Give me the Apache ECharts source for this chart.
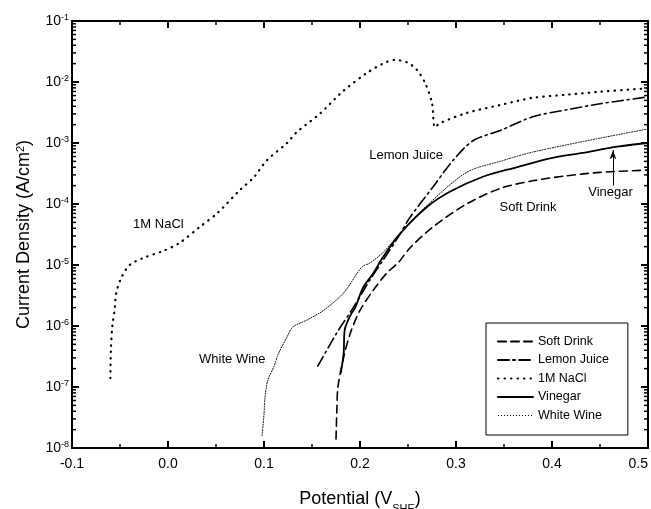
<!DOCTYPE html>
<html>
<head>
<meta charset="utf-8">
<script src="https://cdn.jsdelivr.net/npm/echarts@6/dist/echarts.min.js"></script>
<style>
  html, body { margin: 0; padding: 0; background: #fff; }
  #chart { width: 651px; height: 509px; }
</style>
</head>
<body>
<div id="chart"></div>
<script>
// polarization curves, [potential V_SHE, current density A/cm2]
const softDrink = [
  [0.175, 1.4e-8], [0.176, 4.7e-8], [0.177, 1e-7], [0.183, 3.1e-7], [0.19, 7.7e-7],
  [0.2, 1.8e-6], [0.214, 3.9e-6], [0.228, 7.4e-6], [0.24, 1.1e-5], [0.252, 1.9e-5],
  [0.276, 4.2e-5], [0.311, 1e-4], [0.346, 1.8e-4], [0.38, 2.4e-4], [0.415, 2.9e-4],
  [0.45, 3.3e-4], [0.5, 3.6e-4]
]
const lemonJuice = [
  [0.156, 2.2e-7], [0.176, 7.8e-7], [0.193, 2e-6], [0.21, 5.6e-6], [0.224, 1.2e-5],
  [0.24, 2.9e-5], [0.252, 6e-5], [0.276, 1.9e-4], [0.297, 5.2e-4], [0.318, 1.1e-3],
  [0.346, 1.6e-3], [0.38, 2.7e-3], [0.415, 3.5e-3], [0.45, 4.4e-3], [0.5, 5.7e-3]
]
const nacl = [
  [-0.06, 1.4e-7], [-0.0595, 4e-7], [-0.058, 1e-6], [-0.0555, 1.9e-6], [-0.054, 3.4e-6],
  [-0.049, 6e-6], [-0.04, 1e-5], [-0.026, 1.3e-5], [-0.005, 1.7e-5], [0.012, 2.3e-5],
  [0.033, 4.2e-5], [0.051, 7e-5], [0.075, 1.7e-4], [0.089, 2.7e-4], [0.103, 5.2e-4],
  [0.124, 1e-3], [0.134, 1.5e-3], [0.158, 3e-3], [0.182, 7e-3], [0.207, 1.4e-2],
  [0.224, 2e-2], [0.236, 2.3e-2], [0.249, 2.1e-2], [0.259, 1.6e-2], [0.268, 9.5e-3],
  [0.275, 4.5e-3], [0.278, 1.8e-3], [0.283, 2.1e-3], [0.311, 3.1e-3], [0.346, 4.2e-3],
  [0.38, 5.5e-3], [0.416, 6.2e-3], [0.45, 6.9e-3], [0.5, 7.9e-3]
]
const vinegar = [
  [0.18, 1.7e-7], [0.183, 3.6e-7], [0.184, 8.5e-7], [0.19, 1.5e-6], [0.195, 2e-6],
  [0.203, 4.2e-6], [0.214, 7.4e-6], [0.224, 1.35e-5], [0.242, 3.3e-5], [0.27, 9e-5],
  [0.294, 1.6e-4], [0.328, 2.8e-4], [0.363, 4e-4], [0.398, 5.6e-4], [0.432, 6.9e-4],
  [0.468, 8.7e-4], [0.5, 1e-3]
]
const whiteWine = [
  [0.098, 1.6e-8], [0.1, 3.6e-8], [0.101, 6.6e-8], [0.104, 1.3e-7], [0.11, 2.1e-7],
  [0.115, 3.5e-7], [0.124, 6.6e-7], [0.13, 9.6e-7], [0.145, 1.26e-6], [0.162, 1.8e-6],
  [0.183, 3.5e-6], [0.202, 9.3e-6], [0.21, 1.07e-5], [0.224, 1.6e-5], [0.24, 3.1e-5],
  [0.27, 9.5e-5], [0.311, 3.3e-4], [0.346, 5e-4], [0.38, 7.1e-4], [0.45, 1.2e-3],
  [0.5, 1.7e-3]
]

// text labels placed on the plot, [text, x, y]
const notes = [
  ['1M NaCl', -0.010, 4.6e-5],
  ['Lemon Juice', 0.248, 6.2e-4],
  ['Soft Drink', 0.375, 8.9e-5],
  ['Vinegar', 0.461, 1.55e-4],
  ['White Wine', 0.067, 2.8e-7]
]
// arrow from Vinegar label to its curve
const arrow = [[0.4635, 2.0e-4], [0.4635, 7.6e-4]]

// minor ticks of log axis (2..9 per decade)
const minorLogTicks = []
for (let e = -8; e < -1; e++) {
  for (let m = 2; m < 10; m++) minorLogTicks.push(m * Math.pow(10, e))
}

const font = 'Liberation Sans, Arial, sans-serif'
const chart = echarts.init(document.getElementById('chart'))

const axisLine = { show: true, onZero: false, lineStyle: { color: '#000', width: 2 } }
const xTick = { inside: true, length: 7, lineStyle: { color: '#000', width: 2 } }
const xMinor = { show: true, splitNumber: 2, length: 4, lineStyle: { color: '#000', width: 1.5 } }

function line(name, data, type, width) {
  return {
    name, type: 'line', data, symbol: 'none', smooth: 0.3,
    lineStyle: { color: '#000', width, type, cap: 'round' },
    itemStyle: { color: '#000' },
    z: 3
  }
}

const vinegarSeries = line('Vinegar', vinegar, 'solid', 1.8)
vinegarSeries.markLine = {
  silent: true,
  symbol: ['none', 'arrow'],
  symbolSize: [5, 9],
  label: { show: false },
  lineStyle: { color: '#000', width: 1, type: 'solid' },
  data: [[{ coord: arrow[0] }, { coord: arrow[1] }]]
}

chart.setOption({
  animation: false,
  textStyle: { fontFamily: font },
  grid: { left: 72, right: 3, top: 21, bottom: 61, outerBoundsMode: 'none', containLabel: false },
  legend: {
    orient: 'vertical', left: 486, top: 323,
    data: [
      'Soft Drink', 'Lemon Juice', '1M NaCl', 'Vinegar',
      { name: 'White Wine', lineStyle: { type: [1, 2], width: 1.2, cap: 'butt' } }
    ],
    itemWidth: 35, itemHeight: 12, itemGap: 5.5,
    padding: [12, 19, 13, 11],
    borderColor: '#000', borderWidth: 1,
    itemStyle: { color: 'rgba(0,0,0,0)', borderWidth: 0, opacity: 0 },
    textStyle: { fontFamily: font, fontSize: 12.5, color: '#000' }
  },
  xAxis: [{
    type: 'value', min: -0.1, max: 0.5, interval: 0.1, position: 'bottom',
    axisLine, axisTick: xTick, minorTick: xMinor, splitLine: { show: false },
    axisLabel: {
      color: '#000', fontSize: 14, margin: 9, alignMaxLabel: 'right',
      formatter: v => v.toFixed(1)
    },
    name: 'Potential (V{sub|SHE})', nameLocation: 'middle', nameGap: 42,
    nameTextStyle: {
      color: '#000', fontSize: 18,
      rich: { sub: { fontSize: 11, verticalAlign: 'bottom', padding: [0, 0, -6, 0] } }
    }
  }, {
    type: 'value', min: -0.1, max: 0.5, interval: 0.1, position: 'top',
    axisLine, axisTick: xTick, minorTick: xMinor, splitLine: { show: false },
    axisLabel: { show: false }
  }],
  yAxis: [{
    type: 'log', logBase: 10, min: 1e-8, max: 1e-1, position: 'left',
    axisLine, axisTick: xTick, splitLine: { show: false },
    axisLabel: {
      color: '#000', fontSize: 14, margin: 3,
      formatter: v => '10{sup|' + Math.round(Math.log10(v)) + '}',
      rich: { sup: { fontSize: 9, verticalAlign: 'top', padding: [0, 0, 6, 0] } }
    },
    name: 'Current Density (A/cm{sup|2})', nameLocation: 'middle', nameGap: 38,
    nameTextStyle: {
      color: '#000', fontSize: 18,
      rich: { sup: { fontSize: 11, verticalAlign: 'top', padding: [0, 0, 8, 0] } }
    }
  }, {
    type: 'log', logBase: 10, min: 1e-8, max: 1e-1, position: 'right',
    axisLine, axisTick: xTick, splitLine: { show: false }, axisLabel: { show: false }
  }],
  series: [
    line('Soft Drink', softDrink, [8, 5], 1.6),
    line('Lemon Juice', lemonJuice, [11, 4, 2, 4], 1.6),
    line('1M NaCl', nacl, [0.5, 6], 2.2),
    vinegarSeries,
    line('White Wine', whiteWine, [1, 1.6], 1),
    {
      // log minor ticks on left and right axes
      type: 'custom', silent: true, z: 4,
      data: minorLogTicks,
      renderItem: (params, api) => {
        const v = api.value(0)
        const l = api.coord([-0.1, v])
        const r = api.coord([0.5, v])
        const style = { stroke: '#000', lineWidth: 1.5 }
        return {
          type: 'group',
          children: [
            { type: 'line', shape: { x1: l[0], y1: l[1], x2: l[0] + 4, y2: l[1] }, style },
            { type: 'line', shape: { x1: r[0] - 4, y1: r[1], x2: r[0], y2: r[1] }, style }
          ]
        }
      },
      encode: { x: -1, y: 0 }
    }
  ]
})

// annotation texts placed through the axes
chart.setOption({
  graphic: notes.map(([text, x, y]) => {
    const p = chart.convertToPixel({ xAxisIndex: 0, yAxisIndex: 0 }, [x, y])
    return {
      type: 'text', x: p[0], y: p[1],
      style: { text, fill: '#000', font: '13px ' + font, textAlign: 'center', textVerticalAlign: 'middle' }
    }
  })
})
</script>
</body>
</html>
